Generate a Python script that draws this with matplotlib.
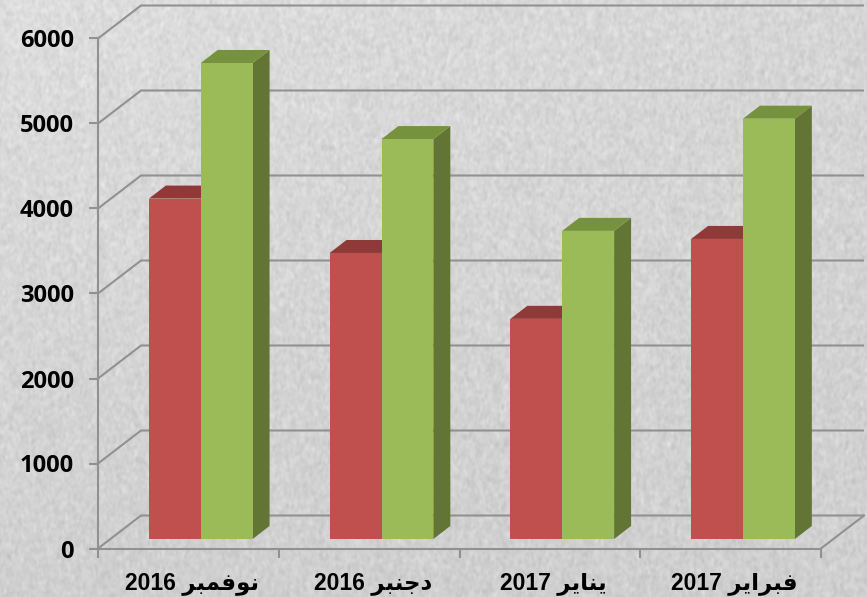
import numpy as np
import matplotlib
matplotlib.use("Agg")
import matplotlib.pyplot as plt
from matplotlib.patches import Polygon

# ---- data ----
categories = ["نوفمبر 2016", "دجنبر 2016", "يناير 2017", "فبراير 2017"]
red_values = [4005, 3365, 2590, 3530]
green_values = [5600, 4705, 3625, 4945]
y_ticks = [0, 1000, 2000, 3000, 4000, 5000, 6000]

# ---- Arabic shaping (matplotlib has no shaper / bidi) ----
FORMS = {  # isolated, final, initial, medial
    "ن": "\uFEE5\uFEE6\uFEE7\uFEE8", "و": "\uFEED\uFEEE\uFEED\uFEEE",
    "ف": "\uFED1\uFED2\uFED3\uFED4", "م": "\uFEE1\uFEE2\uFEE3\uFEE4",
    "ب": "\uFE8F\uFE90\uFE91\uFE92", "ر": "\uFEAD\uFEAE\uFEAD\uFEAE",
    "د": "\uFEA9\uFEAA\uFEA9\uFEAA", "ج": "\uFE9D\uFE9E\uFE9F\uFEA0",
    "ي": "\uFEF1\uFEF2\uFEF3\uFEF4", "ا": "\uFE8D\uFE8E\uFE8D\uFE8E",
}
NON_JOIN_NEXT = set("ورداز")

def shape_word(word):
    out = []
    for i, c in enumerate(word):
        prev_joins = i > 0 and word[i - 1] not in NON_JOIN_NEXT
        next_exists = i < len(word) - 1
        joins_next = next_exists and c not in NON_JOIN_NEXT
        idx = 3 if prev_joins and joins_next else 1 if prev_joins else 2 if joins_next else 0
        out.append(FORMS[c][idx])
    return "".join(reversed(out))

def visual(label):
    word, year = label.split(" ")
    return year + " " + shape_word(word)

# ---- figure / pixel mapping ----
W, H = 867, 597
fig = plt.figure(figsize=(W / 100, H / 100), dpi=100)
ax = fig.add_axes([0, 0, 1, 1])
px_per_cat = 180.75
px_per_val = 0.085
x0_px, y0_px = 98.0, 548.5
xlim = (-x0_px / px_per_cat, (W - x0_px) / px_per_cat)
ylim = (-(H - y0_px) / px_per_val, y0_px / px_per_val)

# background stone texture (decoration only, deterministic)
yy, xx = np.mgrid[0:H, 0:W].astype(float)
n = np.sin(xx * 12.9898 + yy * 78.233) * 43758.5453
n = n - np.floor(n)
F = np.fft.rfft2(n - n.mean())
fy = np.fft.fftfreq(H)[:, None]
fx = np.fft.rfftfreq(W)[None, :]
F *= np.exp(-((fx * 1.6) ** 2 + (fy * 2.4) ** 2) * 9.0)
tex = np.fft.irfft2(F, s=(H, W))
tex = tex / tex.std()
base = 213 - 6 * (yy / H) + 8 * (1 - xx / W) * (1 - yy / H)
bg = np.clip(base + 4.0 * tex, 0, 255) / 255
ax.imshow(bg, cmap="gray", vmin=0, vmax=1, extent=(*xlim, *ylim), aspect="auto",
          origin="upper", zorder=0, interpolation="bilinear")
ax.set_xlim(*xlim)
ax.set_ylim(*ylim)

# ---- 3D geometry in data units ----
DX = 43 / px_per_cat
DY = 33 / px_per_val
d_front, d_back = 0.288, 0.682
off = 0.213
bw = 0.287
GRID = "#919191"
LW = 1.5

for v in y_ticks:
    ax.plot([0, DX, 4 + DX], [v, v + DY, v + DY], color=GRID, lw=LW, zorder=1,
            solid_joinstyle="miter", solid_capstyle="butt")
ax.plot([4, 4 + DX], [0, DY], color=GRID, lw=LW, zorder=1)


def bar3d(xl, v, front, top, side, z):
    def pt(x, y, d):
        return (x + d * DX, y + d * DY)
    xr = xl + bw
    ax.add_patch(Polygon([pt(xr, 0, d_front), pt(xr, 0, d_back), pt(xr, v, d_back), pt(xr, v, d_front)],
                         fc=side, ec="none", zorder=z))
    ax.add_patch(Polygon([pt(xl, v, d_front), pt(xr, v, d_front), pt(xr, v, d_back), pt(xl, v, d_back)],
                         fc=top, ec="none", zorder=z))
    ax.add_patch(Polygon([pt(xl, 0, d_front), pt(xr, 0, d_front), pt(xr, v, d_front), pt(xl, v, d_front)],
                         fc=front, ec="none", zorder=z + 0.1))


for i, (r, g) in enumerate(zip(red_values, green_values)):
    bar3d(i + off, r, "#C0504D", "#8F3A38", "#8F3A38", 3)
    bar3d(i + off + bw, g, "#9BBB59", "#76923C", "#637534", 4)

# ---- axes ----
for s in ("top", "right"):
    ax.spines[s].set_visible(False)
ax.spines["left"].set_position(("data", 0))
ax.spines["bottom"].set_position(("data", 0))
ax.spines["left"].set_bounds(0, 6000)
ax.spines["bottom"].set_bounds(0, 4)
for s in ("left", "bottom"):
    ax.spines[s].set_color(GRID)
    ax.spines[s].set_linewidth(LW)
    ax.spines[s].set_zorder(2)

ax.set_yticks(y_ticks)
ax.set_yticklabels([str(v) for v in y_ticks], family="Open Sans", fontweight="bold",
                   fontsize=17, color="black")
ax.tick_params(axis="y", length=6.5, width=LW, color=GRID, pad=11, zorder=2)
ax.set_xticks(range(5))
ax.set_xticklabels([])
ax.tick_params(axis="x", which="major", length=6.5, width=LW, color=GRID)
ax.set_xticks([i + 0.522 for i in range(4)], minor=True)
ax.set_xticklabels([visual(c) for c in categories], minor=True,
                   family=["Liberation Sans", "DejaVu Sans"], fontweight="bold",
                   fontsize=16.5, color="black")
ax.tick_params(axis="x", which="minor", length=0, pad=17)

fig.savefig("out.png", dpi=100)
